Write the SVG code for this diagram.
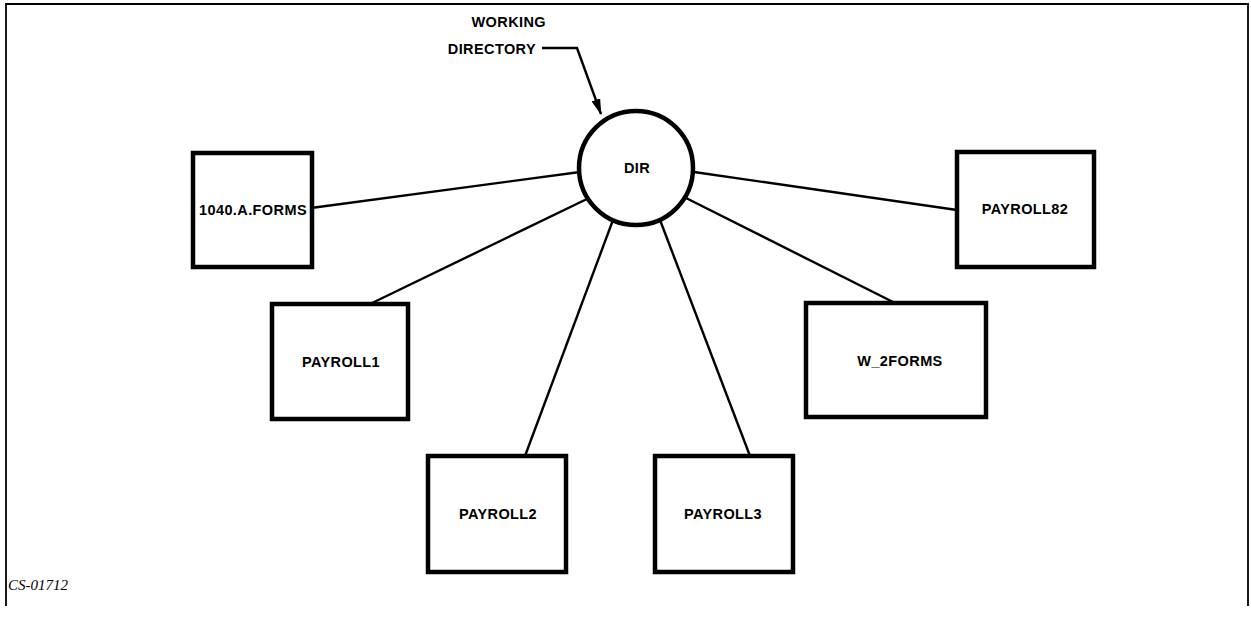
<svg xmlns="http://www.w3.org/2000/svg" width="1251" height="617" viewBox="0 0 1251 617">
<defs>
<style>
.box{fill:#fff;stroke:#000;stroke-width:4.5}
.ln{stroke:#000;stroke-width:2.4;fill:none}
.t{font-family:"Liberation Sans",Arial,Helvetica,sans-serif;font-weight:bold;font-size:14.5px;fill:#000;letter-spacing:0.4px}
.c{text-anchor:middle}
.e{text-anchor:end}
.frame{stroke:#000;stroke-width:1.8;fill:none}
</style>
<marker id="ah" markerWidth="16" markerHeight="9" refX="15" refY="4.5" orient="auto" markerUnits="userSpaceOnUse">
<path d="M0,0 L16,4.5 L0,9 Z" fill="#000"/>
</marker>
</defs>
<rect width="1251" height="617" fill="#fff"/>
<path class="frame" d="M6,606 V4 H1248 V606"/>
<g id="connectors">
<line class="ln" x1="311" y1="208" x2="580" y2="172"/>
<line class="ln" x1="370" y1="304" x2="589" y2="198"/>
<line class="ln" x1="525" y1="456" x2="613" y2="220"/>
<line class="ln" x1="750" y1="456" x2="660" y2="220"/>
<line class="ln" x1="897" y1="304" x2="686" y2="198"/>
<line class="ln" x1="957" y1="210" x2="694" y2="172"/>
<path class="ln" d="M542,48 H577 L601,114" marker-end="url(#ah)"/>
</g>
<g id="label-working">
<text class="t e" x="546" y="27">WORKING</text>
<text class="t e" x="536" y="54">DIRECTORY</text>
</g>
<g id="dir">
<circle cx="636" cy="168" r="57" fill="#fff" stroke="#000" stroke-width="4.5"/>
<text class="t c" x="637" y="173">DIR</text>
</g>
<g id="n1040">
<rect class="box" x="193" y="153" width="119" height="114"/>
<text class="t c" x="253" y="215">1040.A.FORMS</text>
</g>
<g id="payroll1">
<rect class="box" x="272" y="304" width="136" height="115"/>
<text class="t c" x="341" y="367">PAYROLL1</text>
</g>
<g id="payroll2">
<rect class="box" x="428" y="456" width="138" height="116"/>
<text class="t c" x="498" y="519">PAYROLL2</text>
</g>
<g id="payroll3">
<rect class="box" x="655" y="456" width="138" height="116"/>
<text class="t c" x="723" y="519">PAYROLL3</text>
</g>
<g id="w2forms">
<rect class="box" x="806" y="303" width="180" height="114"/>
<text class="t c" x="900" y="366">W_2FORMS</text>
</g>
<g id="payroll82">
<rect class="box" x="957" y="152" width="137" height="115"/>
<text class="t c" x="1025" y="214">PAYROLL82</text>
</g>
<text x="8" y="590" font-family="'Liberation Serif','Times New Roman',serif" font-style="italic" font-size="15">CS-01712</text>
</svg>
